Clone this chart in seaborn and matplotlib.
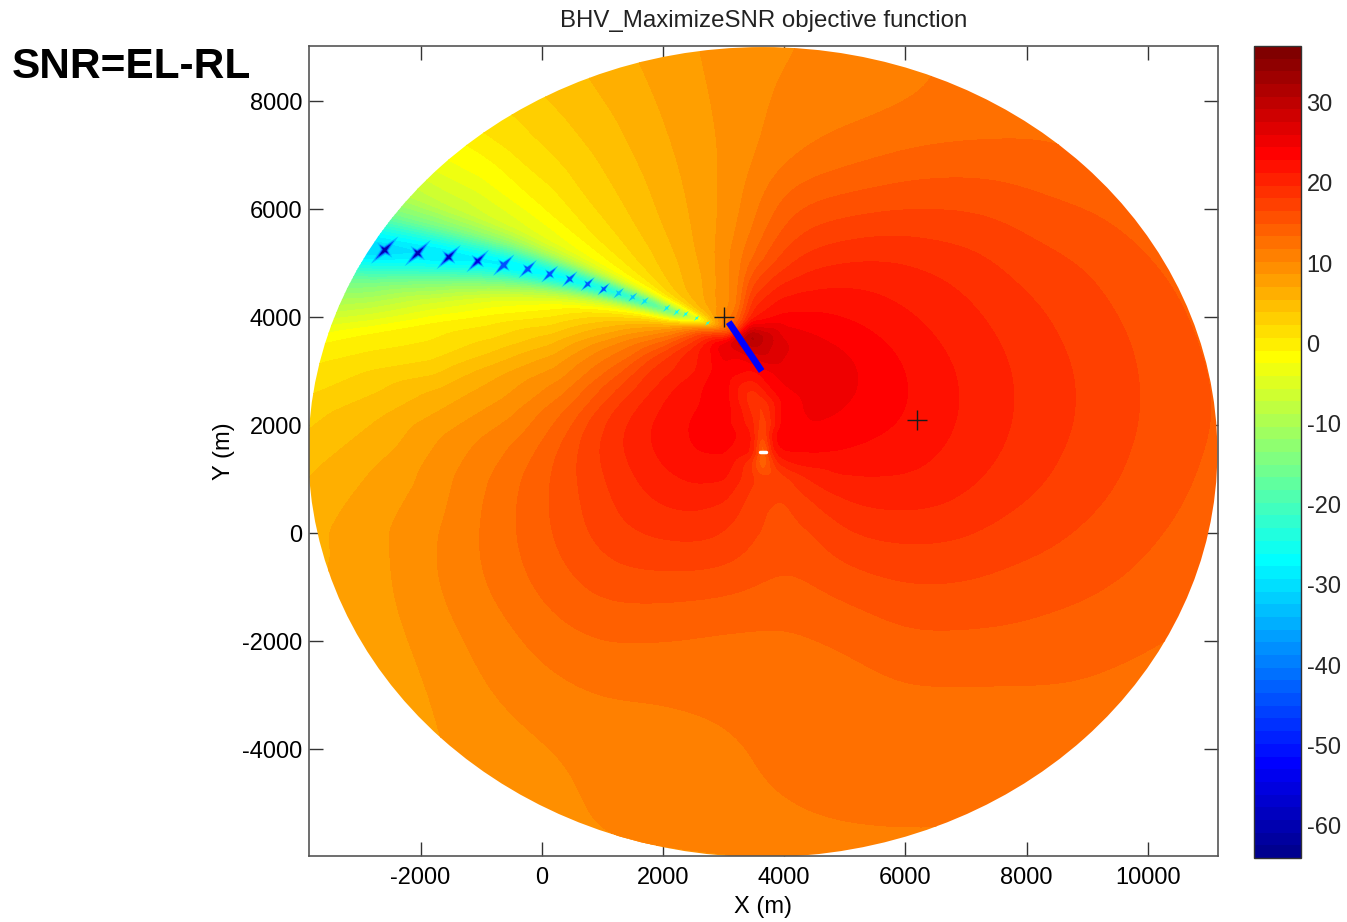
import numpy as np
import matplotlib
matplotlib.use("Agg")
import matplotlib.pyplot as plt
import matplotlib.tri as mtri
from matplotlib.colors import ListedColormap, Normalize
from matplotlib.patches import Circle
from matplotlib.path import Path
import seaborn as sns

# ---- values -----------------------------------------------------------
grid_x = [-4000,-3000,-2000,-1000,0,1000,2000,3000,4000,5000,6000,7000,8000,9000,10000,11000,12000]
grid_y = [9000,8000,7000,6000,5000,4000,3000,2000,1000,0,-1000,-2000,-3000,-4000,-5000,-6000]
row_p9 = [8,8,8,8,8,8,8,9,10,10.5,11.5,12,12.5,12.5,12.5,12.5,12.5]
row_p8 = [8,8,8,8,8,8,8,9,10.5,11,11.5,12,12.5,12.3,12,12,12]
row_p7 = [8,8,8,8,8,8,8,9,11.2,12.5,13.5,13.8,13.7,13.3,13,12.3,12]
row_p6 = [8,8,8,8,8,8,8,9.5,15,15.9,16.5,16.5,15.6,14.9,13.9,13,12.5]
row_p5 = [8,8,8,8,8,8,8,10.5,18,19.7,19.9,18.9,17.3,16.4,15.1,13.8,13]
row_p4 = [6,6,6,6,6,6,7,12,24.4,23.8,21.5,20.2,18.6,17.2,15.9,14.4,13.5]
row_p3 = [5,5,7,9,13,16.5,20,25,27,26,23,21,19.3,17.8,16.3,14.8,13.8]
row_p2 = [3,4.5,9.5,12.5,15.7,19.5,22.8,24,24,25,23,21,19.3,17.8,16.3,14.9,13.8]
row_p1 = [4,6.2,8.9,11.5,14.6,17.7,21,22.3,20,21.7,21.5,20.2,18.6,17.2,15.9,14.6,13.5]
row_00 = [5,7.3,9.6,11.9,14.6,17.4,18.5,18.8,14.5,18.06,18.5,18.3,17.2,16.2,15.2,14.1,13.2]
row_m1 = [5.5,7.4,9.6,11.6,13.8,15.6,15.6,15.3,14,15.4,16.4,16.3,15.7,15.2,14.4,13.5,12.8]
row_m2 = [5.5,7.1,9,10.6,12.2,13.4,13.2,12.7,12.8,13.4,14.6,14.5,14.4,14,13.5,12.9,12.2]
row_m3 = [5.5,6.5,8.4,9.9,11.2,11.8,11.8,12.2,12.3,12.6,13,13,13,13,12.6,12.2,12]
row_m4 = [6,6.5,8.2,9.3,9.9,10.8,11.1,11.3,12.2,12.4,12.5,12.4,12.5,12.5,12.2,12,12]
row_m5 = [6,6.5,8,9,9.5,10.5,10.9,11.3,11.7,12,12.2,12,12,12,12,12,12]
row_m6 = [6,6.5,8,8.5,9.2,10.2,10.5,10.9,11.3,11.7,11.8,12,12,12,12,12,12]

# finer readings in the core, x 2500..5500 and y 5000..500 every 500 m
core_x = [2500,3000,3500,4000,4500,5000,5500]
core_y = [5000,4500,4000,3500,3000,2500,2000,1500,1000,500]
core_5000 = [8,9,15.5,18,19,19.7,20]
core_4500 = [8,9,18,21.5,22,22,21.5]
core_4000 = [8,9,21,23.5,22.5,22.5,21.5]
core_3500 = [8,25.6,30,27,25.5,25,23.4]
core_3000 = [21,24,22.5,25.5,25.4,25.4,24.1]
core_2500 = [22.8,23.7,18,23.5,25.2,25,23.8]
core_2000 = [23.2,23.7,20,24,25,24.5,23]
core_1500 = [23.4,23.5,21.5,23,23.5,23,22]
core_1000 = [22,22,18,17,20,21.5,21]
core_0500 = [20,20,16.5,15.3,17.5,19.8,19.8]

# fan of the null wedge, about the array's west end
fan_origin = (3150, 3750)
fan_offsets = [-75,-55,-40,-28,-18,-10,-6,-3,-1.2,0,1.2,3,6,10,15,22,30,40,50]
fan_radii = [500,1000,1500,2000,3000,4000,5000,6000,8000]
fan_centre = [161,160.5,160,160,160.7,162,163.8,165.5,168]
fan_500  = [10,9,8,7,6,4,1,-3,-10,-14,-10,-2,5,9,12,15,18,21,22.8]
fan_1000 = [9.8,8.3,7.3,6,4.5,1,-3,-12,-20,-25,-20,-12,-4,2,7.5,11,14,19,22]
fan_1500 = [9.7,8,6.5,5,3,0,-5,-15,-24,-27,-24,-14,-5,1,5.5,9,12.5,16.5,19.8]
fan_2000 = [9.7,7.6,5.8,4,2,-1,-6,-17,-26,-28,-26,-16,-6,0,4,7.5,11,14,17.3]
fan_3000 = [9.6,7.2,5,3,0.5,-3,-9,-20,-27,-29,-27,-20,-9,-2,1,4.5,7.8,11,14.3]
fan_4000 = [9.6,7,4.5,2,-1,-5,-12,-22,-28,-29,-28,-22,-12,-4,0,3,6.8,9.6,12.5]
fan_5000 = [9.6,6.8,4.2,1.5,-2.5,-7,-14,-24,-29,-30,-29,-24,-14,-6,-0.5,2,6,9.4,11.5]
fan_6000 = [9.6,6.8,4,1.2,-3,-9,-16,-26,-30,-31,-30,-25,-15,-8,-0.8,2.5,5.5,8,9.7]
fan_8000 = [9.6,6.8,4,1,-3,-10,-17,-26,-30,-31,-30,-25,-16,-9,-1.5,1.5,4,6.5,8]

# extra readings along the thin sliver between the two sources
near_x = [3620,3650,3650,3650,3650,3650,3430,3750,4640,3450,3850,3450,3850,3500,3800]
near_y = [2300,2000,1800,1620,1380,1150,3630,3650,3260,1800,1800,1300,1300,1600,1600]
near_z = [17,16,14.5,10,11,14,33,30,25.9,22,23.5,18.5,19,21,22]

# nulls along the wedge
null_x = [-2591,-2046,-1535,-1056,-627,-231,132,462,759,1023,1271,1502,1700,2063,2228,2376,2558,2739]
null_y = [5241,5185,5111,5037,4963,4889,4796,4704,4611,4519,4444,4370,4296,4167,4093,4056,3981,3889]
null_depth = [-62,-60,-58,-56,-55,-52,-50,-48,-46,-44,-38,-36,-30,-28,-27,-27,-26,-26]
null_span = [390,350,300,260,235,170,145,125,100,80,55,40,34,28,24,20,16,14]

array_x = [3086, 3630]
array_y = [3907, 3000]
cross_x = [3000, 6200]
cross_y = [4000, 2100]
source_x = [3600, 3700]
source_y = [1500, 1500]
x_ticks = [-2000,0,2000,4000,6000,8000,10000]
y_ticks = [-4000,-2000,0,2000,4000,6000,8000]
bar_ticks = [-60,-50,-40,-30,-20,-10,0,10,20,30]

# ---- assemble ----------------------------------------------------------
sns.set_theme(style="white", rc={"axes.unicode_minus": False})
plt.rcParams["font.family"] = ["Liberation Sans", "DejaVu Sans"]

def fan_angle(x, y):
    return np.degrees(np.arctan2(y - fan_origin[1], x - fan_origin[0])) % 360

grid_z = np.array([row_p9,row_p8,row_p7,row_p6,row_p5,row_p4,row_p3,row_p2,row_p1,
                   row_00,row_m1,row_m2,row_m3,row_m4,row_m5,row_m6], float)
gx, gy = np.meshgrid(grid_x, grid_y)
in_core = (gx >= 2500) & (gx <= 5500) & (gy >= 500) & (gy <= 5000)
keep = ~(((fan_angle(gx, gy) >= 85) & (fan_angle(gx, gy) <= 216)) | in_core)

core_z = np.array([core_5000,core_4500,core_4000,core_3500,core_3000,core_2500,core_2000,
                   core_1500,core_1000,core_0500], float)
kx, ky = np.meshgrid(core_x, core_y)
kkeep = ~((fan_angle(kx, ky) >= 85) & (fan_angle(kx, ky) <= 216))

fan_z = np.array([fan_500,fan_1000,fan_1500,fan_2000,fan_3000,fan_4000,fan_5000,fan_6000,fan_8000], float)
rr = np.array(fan_radii)[:, None] * np.ones((1, len(fan_offsets)))
aa = np.radians(np.array(fan_centre)[:, None] + np.array(fan_offsets)[None, :])
fx = fan_origin[0] + rr * np.cos(aa)
fy = fan_origin[1] + rr * np.sin(aa)

px = np.concatenate([gx[keep], kx[kkeep], fx.ravel(), near_x, [fan_origin[0]]])
py = np.concatenate([gy[keep], ky[kkeep], fy.ravel(), near_y, [fan_origin[1]]])
pz = np.concatenate([grid_z[keep], core_z[kkeep], fan_z.ravel(), near_z, [14.0]])

tr = mtri.Triangulation(px, py)
interp = mtri.LinearTriInterpolator(tr, pz)
xs = np.arange(-4000, 11401, 40.0)
ys = np.arange(-6200, 9201, 40.0)
X, Y = np.meshgrid(xs, ys)
raw = np.ma.filled(interp(X, Y), 9.0)

def blur(field, sigma):
    half = int(3 * sigma / 40)
    t = np.arange(-half, half + 1) * 40.0
    k = np.exp(-0.5 * (t / sigma) ** 2)
    k /= k.sum()
    pad = np.pad(field, half, mode="edge")
    out = np.apply_along_axis(lambda v: np.convolve(v, k, mode="valid"), 0, pad)
    out = np.apply_along_axis(lambda v: np.convolve(v, k, mode="valid"), 1, out)
    return out

soft = blur(raw, 420.0)
sharp = blur(raw, 70.0)
# keep the wedge and the sliver crisp, smooth the far field
ang = fan_angle(X, Y)
w_fan = np.clip((np.abs(ang - 163) - 28) / 30, 0, 1)
sx, sy = fan_origin[0], fan_origin[1]
ex, ey = 3650.0, 1500.0
tt = np.clip(((X - sx) * (ex - sx) + (Y - sy) * (ey - sy)) / ((ex - sx) ** 2 + (ey - sy) ** 2), 0, 1)
dist = np.hypot(X - (sx + tt * (ex - sx)), Y - (sy + tt * (ey - sy)))
w_near = np.clip((dist - 300) / 1200, 0, 1)
w = np.minimum(w_fan, w_near)
Z = w * soft + (1 - w) * sharp

# 64-step jet as in the reference's colour bar
ramp = np.concatenate([np.arange(1, 17)/16, np.ones(15), np.arange(16, 0, -1)/16])
red, green, blue = np.zeros(64), np.zeros(64), np.zeros(64)
for j, u in enumerate(ramp, start=1):
    green[min(8 + j - 1, 63)] = u
    if 24 + j <= 64:
        red[24 + j - 1] = u
    if j - 8 >= 1:
        blue[j - 8 - 1] = u
cmap = ListedColormap(np.column_stack([red, green, blue]))

vmin, vmax = -64.0, 37.0
levels = np.linspace(vmin, vmax, 65)
norm = Normalize(vmin, vmax)

W, H = 1347, 922
fig = plt.figure(figsize=(W/100, H/100), dpi=100, facecolor="white")
ax = fig.add_axes([309/W, 1-856/H, (1218-309)/W, (856-46)/H])
cax = fig.add_axes([1254/W, 1-858/H, (1301-1254)/W, (858-46)/H])

cf = ax.contourf(X, Y, np.clip(Z, vmin+0.01, vmax-0.01), levels=levels, cmap=cmap, norm=norm, antialiased=False)
disc = Circle((3650, 1500), 7500, transform=ax.transData)
cf.set_clip_path(disc)

star = Path([(1,1),(0.3,-0.05),(0.55,-0.55),(0.05,-0.3),(-1,-1),(-0.3,0.05),(-0.55,0.55),(-0.05,0.3),(1,1)], closed=True)
nd = np.array(null_depth, float)
ns = np.array(null_span, float)
for frac, tone in [(1.0, -34), (0.5, -44), (0.2, -60)]:
    tones = np.maximum(nd, tone)
    sel = nd <= tone + 4 if tone < -34 else np.ones_like(nd, bool)
    sns.scatterplot(x=np.array(null_x)[sel], y=np.array(null_y)[sel], s=ns[sel]*frac,
                    c=cmap(norm(tones[sel])), marker=star, linewidth=0, ax=ax, legend=False, zorder=3)

sns.lineplot(x=array_x, y=array_y, color="#0000ff", lw=4.8, sort=False, ax=ax, legend=False, zorder=4,
             solid_capstyle="butt", errorbar=None)
sns.lineplot(x=source_x, y=source_y, color="white", lw=2.5, sort=False, ax=ax, legend=False, zorder=4,
             errorbar=None)
sns.scatterplot(x=cross_x, y=cross_y, marker="+", color="#1a1a1a", s=200, linewidth=1.0, ax=ax, legend=False, zorder=5)

ax.set_xlim(-3840, 11160)
ax.set_ylim(-5980, 9020)
ax.set_xticks(x_ticks)
ax.set_yticks(y_ticks)
ax.tick_params(direction="in", length=10, width=1, top=True, right=True, bottom=True, left=True,
               labelsize=17, color="#333333", pad=8, labelcolor="black")
ax.tick_params(axis="y", pad=5)
ax.set_xlabel("X (m)", fontsize=17, color="black", labelpad=5)
ax.set_ylabel("Y (m)", fontsize=17, color="black", labelpad=5)
ax.set_title("BHV_MaximizeSNR objective function", fontsize=17.3, color="#222222", pad=14)
for s in ax.spines.values():
    s.set_visible(True); s.set_color("#555555"); s.set_linewidth(1.2)

cb = fig.colorbar(cf, cax=cax, ticks=bar_ticks)
cax.set_ylim(vmin, vmax)
cb.set_ticks(bar_ticks)
cax.tick_params(direction="in", length=8, width=1, left=True, right=True, labelsize=17, color="#222222", pad=4)
cb.outline.set_edgecolor("#333333")
cb.outline.set_linewidth(1.0)

fig.text(12/W, 1-78/H, "SNR=EL-RL", fontsize=30.5, fontweight="bold", color="black", ha="left", va="baseline")
fig.savefig("out.png", dpi=100)
